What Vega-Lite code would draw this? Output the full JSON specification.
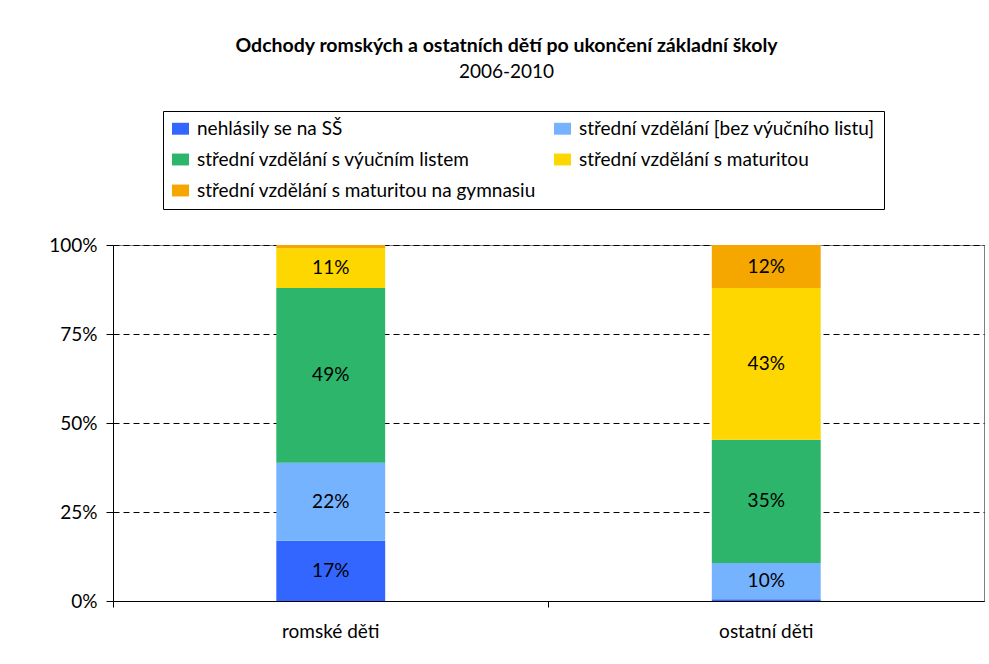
{
  "$schema": "https://vega.github.io/schema/vega-lite/v6.json",
  "width": 871,
  "height": 356,
  "autosize": {"type": "none"},
  "padding": {"left": 113, "top": 245, "right": 5, "bottom": 63},
  "background": "white",
  "title": {
    "text": "Odchody romských a ostatních dětí po ukončení základní školy",
    "subtitle": "2006-2010",
    "font": "Lato",
    "fontSize": 19.5,
    "fontWeight": "bold",
    "color": "black",
    "subtitleFont": "Lato",
    "subtitleFontSize": 19,
    "subtitleColor": "black",
    "anchor": "middle",
    "dx": -42,
    "offset": 28,
    "subtitlePadding": 6
  },
  "data": {
    "values": [
      {"group": "romské děti", "category": "nehlásily se na SŠ", "order": 1, "value": 16.9},
      {"group": "romské děti", "category": "střední vzdělání [bez výučního listu]", "order": 2, "value": 21.9},
      {"group": "romské děti", "category": "střední vzdělání s výučním listem", "order": 3, "value": 49.1},
      {"group": "romské děti", "category": "střední vzdělání s maturitou", "order": 4, "value": 11.2},
      {"group": "romské děti", "category": "střední vzdělání s maturitou na gymnasiu", "order": 5, "value": 0.9},
      {"group": "ostatní děti", "category": "nehlásily se na SŠ", "order": 1, "value": 0.5},
      {"group": "ostatní děti", "category": "střední vzdělání [bez výučního listu]", "order": 2, "value": 10.2},
      {"group": "ostatní děti", "category": "střední vzdělání s výučním listem", "order": 3, "value": 34.6},
      {"group": "ostatní děti", "category": "střední vzdělání s maturitou", "order": 4, "value": 42.6},
      {"group": "ostatní děti", "category": "střední vzdělání s maturitou na gymnasiu", "order": 5, "value": 12.1}
    ]
  },
  "transform": [
    {"stack": "value", "groupby": ["group"], "sort": [{"field": "order"}], "as": ["y0", "y1"]},
    {"calculate": "(datum.y0 + datum.y1) / 2", "as": "ymid"},
    {"calculate": "format(datum.value, '.0f') + '%'", "as": "label"}
  ],
  "layer": [
    {
      "mark": {"type": "bar", "width": {"band": 0.25}},
      "encoding": {
        "x": {
          "field": "group",
          "type": "nominal",
          "sort": ["romské děti", "ostatní děti"],
          "scale": {"paddingInner": 0, "paddingOuter": 0},
          "axis": {
            "orient": "bottom",
            "title": null,
            "ticks": false,
            "domain": true,
            "domainColor": "black",
            "domainWidth": 1,
            "labelAngle": 0,
            "labelPadding": 21,
            "labelFont": "Lato",
            "labelFontSize": 19,
            "labelColor": "black",
            "grid": false
          }
        },
        "y": {
          "field": "y0",
          "type": "quantitative",
          "scale": {"domain": [0, 100], "nice": false},
          "axis": {
            "title": null,
            "values": [0, 25, 50, 75, 100],
            "labelExpr": "datum.value + '%'"
          }
        },
        "y2": {"field": "y1"},
        "color": {
          "field": "category",
          "type": "nominal",
          "scale": {
            "domain": [
              "nehlásily se na SŠ",
              "střední vzdělání [bez výučního listu]",
              "střední vzdělání s výučním listem",
              "střední vzdělání s maturitou",
              "střední vzdělání s maturitou na gymnasiu"
            ],
            "range": ["#3366FF", "#76B3FF", "#2DB56B", "#FFD700", "#F5A700"]
          },
          "legend": {
            "title": null,
            "orient": "none",
            "direction": "horizontal",
            "legendX": 50,
            "legendY": -134,
            "columns": 2,
            "gridAlign": "all",
            "columnPadding": 17,
            "rowPadding": 11,
            "symbolType": "M-1,-0.7H1V0.7H-1Z",
            "symbolSize": 289,
            "symbolStrokeWidth": 0,
            "labelFont": "Lato",
            "labelFontSize": 19,
            "labelColor": "black",
            "labelOffset": 7,
            "labelLimit": 500,
            "strokeColor": "black",
            "padding": 8
          }
        }
      }
    },
    {
      "mark": {"type": "text", "font": "Lato", "fontSize": 19, "color": "black"},
      "transform": [{"filter": "datum.value >= 5"}],
      "encoding": {
        "x": {
          "field": "group",
          "type": "nominal",
          "sort": ["romské děti", "ostatní děti"],
          "axis": {
            "orient": "bottom",
            "title": null,
            "labels": false,
            "domain": false,
            "ticks": true,
            "tickSize": 6,
            "tickColor": "black",
            "bandPosition": 0,
            "grid": false
          }
        },
        "y": {
          "field": "ymid",
          "type": "quantitative",
          "axis": {
            "title": null,
            "values": [0, 25, 50, 75, 100],
            "labelExpr": "datum.value + '%'"
          }
        },
        "text": {"field": "label"}
      }
    }
  ],
  "resolve": {"axis": {"x": "independent"}},
  "config": {
    "view": {"stroke": "#7f7f7f", "strokeWidth": 1},
    "axisY": {
      "domainColor": "black",
      "tickColor": "black",
      "tickSize": 7,
      "labelPadding": 9,
      "labelFont": "Lato",
      "labelFontSize": 19,
      "labelColor": "black",
      "gridColor": "black",
      "gridDash": [6, 4],
      "gridWidth": 1,
      "gridOpacity": 1
    }
  }
}
